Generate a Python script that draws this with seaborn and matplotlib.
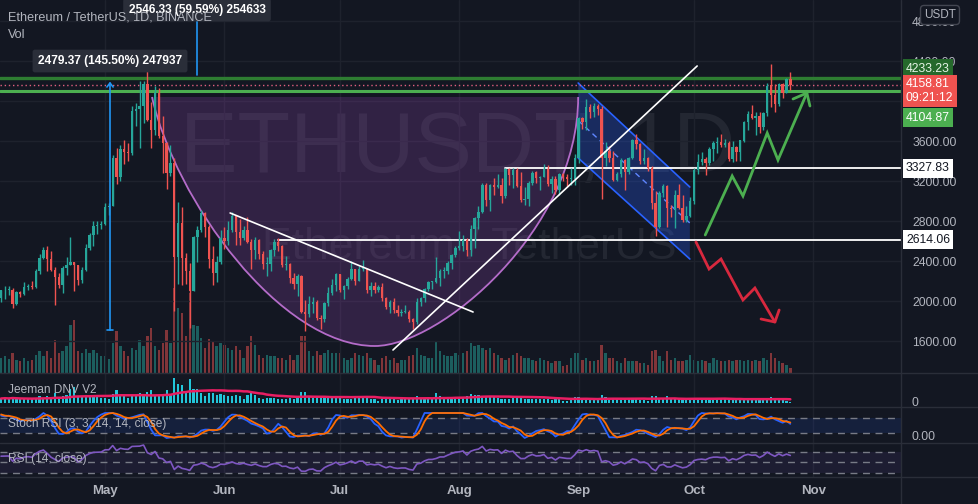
import numpy as np
import pandas as pd
import matplotlib
matplotlib.use("Agg")
import matplotlib.pyplot as plt
import matplotlib.transforms as mtrans
from matplotlib.path import Path
from matplotlib.patches import PathPatch, Polygon
from matplotlib.lines import Line2D
import seaborn as sns

# ---------------- data (ETH/USDT daily, 2021-04-04 .. 2021-10-26) ----------------
warmup_closes = [1565, 1492, 1575, 1541, 1533, 1655, 1723, 1834, 1868, 1799, 1826, 1770,
                 1924, 1855, 1792, 1806, 1823, 1781, 1810, 1806, 1783, 1682, 1670, 1587,
                 1590, 1702, 1714, 1687, 1817, 1846, 1919, 1970, 2133, 2027]

closes = [
    # Apr 4-30
    2106, 2110, 2115, 1970, 2087, 2068, 2136, 2155, 2140, 2300, 2433, 2515, 2425, 2310,
    2238, 2160, 2330, 2360, 2390, 2365, 2210, 2315, 2530, 2660, 2750, 2760, 2770,
    # May
    2945, 2950, 3430, 3240, 3524, 3490, 3481, 3900, 3920, 3950, 4169, 3813, 3715, 4080,
    3650, 3585, 3280, 3385, 2440, 2780, 2430, 2300, 2100, 2640, 2710, 2880, 2740, 2420,
    2280, 2390, 2630,
    # Jun
    2600, 2710, 2855, 2690, 2630, 2710, 2590, 2510, 2610, 2470, 2370, 2370, 2510, 2590,
    2550, 2360, 2370, 2230, 2170, 2250, 1890, 1875, 1970, 1990, 1830, 1820, 1980, 2080,
    2160, 2275,
    # Jul
    2110, 2150, 2225, 2325, 2200, 2320, 2320, 2115, 2150, 2110, 2140, 2035, 1940, 1995,
    1915, 1880, 1895, 1895, 1820, 1787, 1995, 2027, 2124, 2188, 2190, 2230, 2300, 2300,
    2380, 2460, 2535,
    # Aug
    2555, 2608, 2508, 2725, 2827, 2890, 3157, 3012, 3163, 3141, 3164, 3046, 3322, 3265,
    3310, 3147, 3012, 3017, 3180, 3285, 3226, 3242, 3320, 3173, 3224, 3115, 3270, 3245,
    3225, 3225, 3430,
    # Sep
    3830, 3789, 3941, 3887, 3951, 3925, 3428, 3497, 3427, 3211, 3268, 3410, 3286, 3429,
    3613, 3572, 3398, 3433, 3331, 2976, 2743, 3078, 3155, 2930, 2924, 3063, 2930, 2807,
    2850, 3000,
    # Oct 1-26
    3307, 3389, 3418, 3380, 3518, 3581, 3587, 3561, 3578, 3416, 3543, 3492, 3605, 3786,
    3866, 3830, 3847, 3745, 3878, 4155, 4057, 3971, 4169, 4085, 4219, 4159,
]

highs = [
    2110, 2150, 2150, 2130, 2100, 2100, 2190, 2170, 2200, 2318, 2470, 2545, 2550, 2500,
    2340, 2280, 2350, 2440, 2645, 2390, 2365, 2340, 2570, 2680, 2800, 2800, 2800,
    2985, 2980, 3460, 3530, 3560, 3610, 3580, 3950, 3980, 4197, 4200, 4372, 3986, 4147,
    4130, 3853, 3590, 3560, 3430, 2990, 2940, 2480, 2380, 2650, 2750, 2910, 2890, 2760,
    2550, 2450, 2710,
    2740, 2800, 2890, 2860, 2820, 2750, 2840, 2620, 2640, 2620, 2500, 2440, 2520, 2620,
    2630, 2560, 2450, 2380, 2280, 2270, 2260, 2010, 2050, 2040, 2010, 1860, 1990, 2140,
    2220, 2280,
    2275, 2160, 2240, 2400, 2325, 2350, 2410, 2330, 2190, 2190, 2160, 2180, 2045, 2010,
    2035, 1960, 1920, 1965, 1910, 1835, 2030, 2045, 2130, 2200, 2200, 2440, 2320, 2340,
    2400, 2470, 2550,
    2700, 2665, 2630, 2760, 2840, 2950, 3180, 3185, 3175, 3230, 3275, 3235, 3330, 3333,
    3330, 3335, 3290, 3140, 3200, 3300, 3300, 3250, 3375, 3360, 3250, 3250, 3280, 3285,
    3275, 3330, 3470,
    3840, 3840, 4025, 3970, 3980, 3970, 3950, 3590, 3550, 3500, 3290, 3430, 3420, 3440,
    3620, 3670, 3580, 3520, 3440, 3350, 3100, 3100, 3175, 3160, 2960, 3110, 3170, 3060,
    2950, 3040,
    3330, 3470, 3490, 3440, 3540, 3600, 3640, 3670, 3625, 3600, 3600, 3550, 3615, 3800,
    3900, 3960, 3890, 3890, 3890, 4180, 4375, 4170, 4185, 4185, 4230, 4290,
]

lows = [
    1990, 2020, 2060, 1930, 1960, 2040, 2060, 2110, 2120, 2130, 2270, 2420, 2300, 2300,
    1960, 2130, 2080, 2260, 2360, 2100, 2160, 2180, 2300, 2510, 2550, 2670, 2720,
    2760, 2860, 2950, 3170, 3200, 3370, 3400, 3460, 3750, 3530, 3780, 3800, 3530, 3660,
    3630, 3280, 3120, 3250, 1900, 2170, 2160, 2170, 1730, 2100, 2390, 2690, 2640, 2330,
    2160, 2190, 2370,
    2520, 2560, 2690, 2560, 2560, 2610, 2580, 2320, 2420, 2420, 2320, 2250, 2300, 2450,
    2500, 2340, 2310, 2180, 2120, 2050, 1880, 1700, 1840, 1880, 1810, 1720, 1790, 1950,
    2060, 2100,
    2090, 2020, 2120, 2210, 2160, 2200, 2300, 2080, 2050, 2080, 2090, 2000, 1920, 1880,
    1885, 1855, 1855, 1880, 1795, 1718, 1770, 1955, 1990, 2100, 2125, 2180, 2150, 2230,
    2270, 2320, 2440,
    2510, 2500, 2450, 2450, 2530, 2720, 2880, 2950, 2900, 3060, 3130, 2980, 3030, 3160,
    3130, 3140, 2990, 2960, 2950, 3160, 3180, 3110, 3240, 3150, 3080, 3070, 3060, 3200,
    3150, 3160, 3160,
    3385, 3720, 3710, 3830, 3845, 3860, 3020, 3350, 3390, 3200, 3200, 3240, 3110, 3270,
    3420, 3520, 3370, 3375, 3300, 2920, 2650, 2730, 3040, 2740, 2840, 2730, 2925, 2790,
    2790, 2840,
    2970, 3270, 3360, 3265, 3360, 3400, 3480, 3540, 3540, 3400, 3390, 3400, 3400, 3590,
    3715, 3820, 3660, 3680, 3710, 3850, 3940, 3890, 3950, 4030, 4080, 4110,
]

# daily volume, in units of 40k ETH
volume = [
    15, 17, 14, 20, 13, 12, 15, 12, 13, 18, 22, 17, 22, 15, 33, 20, 22, 27, 48, 53,
    22, 20, 24, 20, 23, 20, 17, 17, 14, 30, 42, 27, 22, 17, 25, 23, 33, 27, 37, 45,
    27, 23, 30, 43, 30, 85, 65, 60, 37, 80, 48, 47, 35, 25, 34, 32, 27, 30, 28, 25,
    23, 27, 23, 15, 27, 37, 28, 18, 15, 18, 17, 17, 15, 15, 13, 18, 13, 18, 37, 37,
    22, 17, 22, 18, 20, 23, 20, 20, 20, 15, 13, 15, 20, 18, 17, 20, 15, 13, 8, 15,
    17, 13, 15, 10, 13, 13, 17, 18, 25, 18, 17, 15, 15, 32, 22, 18, 17, 17, 20, 18,
    20, 22, 30, 27, 28, 25, 23, 25, 20, 18, 15, 13, 15, 18, 20, 17, 15, 15, 13, 12,
    15, 13, 12, 10, 12, 12, 7, 8, 15, 20, 20, 13, 15, 12, 12, 13, 28, 20, 15, 15,
    12, 10, 15, 12, 12, 12, 10, 10, 8, 22, 23, 17, 12, 22, 13, 15, 12, 12, 13, 18,
    13, 12, 13, 12, 10, 15, 13, 12, 12, 13, 12, 13, 13, 12, 13, 12, 13, 12, 15, 13,
    20, 15, 12, 10, 8, 5,
]

month_labels = ["May", "Jun", "Jul", "Aug", "Sep", "Oct", "Nov"]
month_index = [27, 58, 88, 119, 150, 180, 211]
price_ticks = [1600, 2000, 2400, 2800, 3200, 3600, 4000, 4400, 4800]
hidden_ticks = [4000]   # fully covered by the last-price label in the reference

# ---------------- user drawings (day index, price) ----------------
level_dark_green = 4233.23
level_light_green = 4104.87
last_price = 4158.81
countdown = "09:21:12"
level_a = (130.9, 3327.83)
level_b = (71.9, 2614.06)
desc_line_x, desc_line_y = [59.5, 122.6], [2880, 1890]
asc_line_x, asc_line_y = [101.8, 180.8], [1510, 4350]
cup_x = [39.2, 45.2, 72.5, 97.1, 114.0, 149.9, 149.9]
cup_y = [4040, 3010, 1550, 1550, 1550, 2710, 4040]
channel_x = [149.9, 178.9]
channel_upper = [4180, 3140]
channel_lower = [3430, 2420]
green_path_x = [182.9, 189.9, 192.7, 199.0, 201.8, 209.3]
green_path_y = [2660, 3250, 3050, 3680, 3410, 4080]
green_head_x, green_head_y = [205.7, 209.3, 210.1], [4020, 4080, 3950]
red_path_x = [180.5, 183.9, 187.0, 192.7, 195.8, 201.0]
red_path_y = [2590, 2320, 2420, 2010, 2130, 1790]
red_head_x, red_head_y = [197.4, 201.0, 202.1], [1820, 1790, 1910]
measure1 = dict(x=28.3, lo=1710, hi=4180, label="2479.37 (145.50%) 247937", lx=28.3, ly=4400)
measure2 = dict(x=50.9, lo=4260, hi=5200, label="2546.33 (59.59%) 254633", lx=50.9, ly=4910)

# ---------------- derived series ----------------
n = len(closes)
idx = np.arange(n)
c = np.array(closes, float)
o = np.array([warmup_closes[-1]] + closes[:-1], float)
h = np.array(highs, float)
l = np.array(lows, float)
v = np.array(volume, float)
up = c >= o

all_close = pd.Series(warmup_closes + closes, dtype=float)
d = all_close.diff()
gain = d.clip(lower=0).ewm(alpha=1 / 14, adjust=False).mean()
loss = (-d.clip(upper=0)).ewm(alpha=1 / 14, adjust=False).mean()
rsi_all = 100 - 100 / (1 + gain / loss)
lo14 = rsi_all.rolling(14).min()
hi14 = rsi_all.rolling(14).max()
stoch = 100 * (rsi_all - lo14) / (hi14 - lo14)
k_all = stoch.rolling(3).mean()
d_all = k_all.rolling(3).mean()
off = len(warmup_closes)
rsi = rsi_all.values[off:]
k_line = k_all.values[off:]
d_line = d_all.values[off:]
vol_ma = pd.Series(v).rolling(20, min_periods=1).mean().values

df = pd.DataFrame(dict(i=idx, rsi=rsi, k=k_line, d=d_line, vma=vol_ma))

# ---------------- style ----------------
sns.set_theme(style="dark")
plt.rcParams["font.family"] = ["Liberation Sans", "DejaVu Sans"]
BG = "#131722"
TXT = "#b2b5be"
GRID = "#1e222d"
SEP = "#2a2e39"
UPC = "#26a69a"
DNC = "#ef5350"

W, H = 979, 504
fig = plt.figure(figsize=(W / 100, H / 100), dpi=100)
fig.patch.set_facecolor(BG)


def rect(top, bottom, left=0, right=901):
    return [left / W, 1 - bottom / H, (right - left) / W, (bottom - top) / H]


XLIM = (-0.273, 233.75)

# volume axes (behind main)
axv = fig.add_axes(rect(0, 373))
axv.set_facecolor(BG)
axv.bar(idx, v, width=0.62, color=np.where(up, UPC, DNC), alpha=0.5, linewidth=0)
axv.set_xlim(*XLIM)
axv.set_ylim(0, 373)
axv.axis("off")

# main price axes
ax = fig.add_axes(rect(0, 373), sharex=axv)
ax.patch.set_visible(False)
ax.set_xlim(*XLIM)
ax.set_ylim(1280, 5010)
for s in ax.spines.values():
    s.set_visible(False)
ax.set_axisbelow(True)
ax.yaxis.tick_right()
ax.set_yticks(price_ticks)
ax.set_yticklabels(["" if p in hidden_ticks else f"{p:.2f}" for p in price_ticks])
ax.tick_params(axis="y", length=0, pad=8, labelsize=8.7, labelcolor=TXT)
ax.set_xticks(month_index)
ax.tick_params(axis="x", length=0, labelbottom=False)
ax.grid(True, color=GRID, lw=1)

# watermark
ax.text(458 / W, 1 - 172 / H, "ETHUSDT, 1D", transform=fig.transFigure, ha="center",
        va="baseline", fontsize=62, color="#787b86", alpha=0.16, zorder=0.5)
ax.text(469 / W, 1 - 259 / H, "Ethereum / TetherUS", transform=fig.transFigure, ha="center",
        va="baseline", fontsize=32, color="#787b86", alpha=0.16, zorder=0.5)

# cup (arc) drawing
verts = list(zip(cup_x, cup_y))
codes = [Path.MOVETO, Path.CURVE4, Path.CURVE4, Path.CURVE4, Path.CURVE4, Path.CURVE4, Path.CURVE4]
ax.add_patch(PathPatch(Path(verts + [verts[0]], codes + [Path.CLOSEPOLY]),
                       fc="#8e44ad", alpha=0.25, ec="none", zorder=1))
ax.add_patch(PathPatch(Path(verts, codes), fc="none", ec="#b46cc9", lw=1.3, zorder=1.2))

# falling channel
chan = Polygon([(channel_x[0], channel_upper[0]), (channel_x[1], channel_upper[1]),
                (channel_x[1], channel_lower[1]), (channel_x[0], channel_lower[0])],
               closed=True, fc="#2962ff", alpha=0.28, ec="none", zorder=1)
ax.add_patch(chan)
ax.plot(channel_x, channel_upper, color="#2962ff", lw=1.2, zorder=1.3)
ax.plot(channel_x, channel_lower, color="#2962ff", lw=1.2, zorder=1.3)
ax.plot(channel_x, [(a + b) / 2 for a, b in zip(channel_upper, channel_lower)],
        color="#5f86ff", lw=1, ls=(0, (4, 3)), zorder=1.3)

# horizontal levels
ax.axhline(level_dark_green, color="#2e7d32", lw=2.4, zorder=2)
ax.axhline(level_light_green, color="#4caf50", lw=2.2, zorder=2)
ax.axhline(last_price, color="#e0607e", lw=1, ls=(0, (1, 2)), zorder=2)
ax.plot([level_a[0], XLIM[1]], [level_a[1]] * 2, color="white", lw=1.3, zorder=2)
ax.plot([level_b[0], XLIM[1]], [level_b[1]] * 2, color="white", lw=1.3, zorder=2)

# candles
cols = np.where(up, UPC, DNC)
ax.vlines(idx, l, h, colors=cols, lw=1, zorder=3)
body = np.maximum(np.abs(c - o), 8)
ax.bar(idx, body, bottom=np.minimum(o, c), width=0.62, color=cols, linewidth=0, zorder=3.1)

# trend lines & arrows
ax.plot(desc_line_x, desc_line_y, color="white", lw=1.2, zorder=4)
ax.plot(asc_line_x, asc_line_y, color="white", lw=1.2, zorder=4)
ax.plot(green_path_x, green_path_y, color="#4caf50", lw=2, zorder=4, solid_joinstyle="miter")
ax.plot(green_head_x, green_head_y, color="#4caf50", lw=2, zorder=4)
ax.plot(red_path_x, red_path_y, color="#d8283e", lw=2, zorder=4, solid_joinstyle="miter")
ax.plot(red_head_x, red_head_y, color="#d8283e", lw=2, zorder=4)

# measurement tools
for m in (measure1, measure2):
    ax.plot([m["x"], m["x"]], [m["lo"], m["hi"]], color="#2196f3", lw=1.2, zorder=4, clip_on=True)
    ax.text(m["lx"], m["ly"], m["label"], ha="center", va="center", fontsize=8.6,
            fontweight="bold", color="white", zorder=6,
            bbox=dict(boxstyle="round,pad=0.45,rounding_size=0.2", fc="#2a2e39", ec="none"))
ax.plot([measure1["x"] - 0.8, measure1["x"], measure1["x"] + 0.8],
        [measure1["hi"] - 40, measure1["hi"], measure1["hi"] - 40], color="#2196f3", lw=1.2, zorder=4)
ax.plot([measure1["x"] - 0.7, measure1["x"] + 0.7], [measure1["lo"]] * 2, color="#2196f3", lw=1.2, zorder=4)

# price-axis labels
trans = mtrans.blended_transform_factory(ax.transAxes, ax.transData)


def price_box(price, text, fc, tc, dy=0):
    ax.annotate(text, xy=(1, price), xycoords=trans, xytext=(5, dy), textcoords="offset pixels",
                ha="left", va="center", fontsize=8.8, color=tc, linespacing=1.15,
                bbox=dict(boxstyle="square,pad=0.28", fc=fc, ec="none"),
                annotation_clip=False, zorder=10)


price_box(level_dark_green, f"{level_dark_green:.2f}", "#25692c", "#e6f4e6", dy=9)
price_box(last_price, f"{last_price:.2f}\n{countdown}", "#ef5350", "white", dy=-6)
price_box(level_light_green, f"{level_light_green:.2f}", "#4caf50", "white", dy=-27)
price_box(level_a[1], f"{level_a[1]:.2f}", "white", "#131722")
price_box(level_b[1], f"{level_b[1]:.2f}", "white", "#131722")

# ---------------- indicator panels ----------------
axj = fig.add_axes(rect(373, 407), sharex=axv)
axs = fig.add_axes(rect(407, 443), sharex=axv)
axr = fig.add_axes(rect(443, 477), sharex=axv)
for a in (axj, axs, axr):
    a.set_facecolor(BG)
    for s in a.spines.values():
        s.set_visible(False)
    a.set_xlim(*XLIM)
    a.set_xticks(month_index)
    a.set_yticks([])
    a.grid(True, axis="x", color=GRID, lw=1)
    a.set_axisbelow(True)

# Jeeman DNV V2
axj.bar(idx, v, width=0.55, color="#22c6da", linewidth=0, zorder=2)
sns.lineplot(data=df, x="i", y="vma", ax=axj, color="#e91e63", lw=1.8, legend=False, zorder=3)
axj.set_ylim(-13.3, 100)

# Stoch RSI
axs.axhspan(20, 80, color="#2962ff", alpha=0.12, lw=0, zorder=1)
for lev in (20, 80):
    axs.plot([XLIM[0], 232.5], [lev, lev], color="#787b86", lw=1, ls=(0, (5, 4)), zorder=1.5)
sns.lineplot(data=df, x="i", y="k", ax=axs, color="#2962ff", lw=1.3, legend=False, zorder=3)
sns.lineplot(data=df, x="i", y="d", ax=axs, color="#ff6d00", lw=1.3, legend=False, zorder=3)
axs.set_ylim(-20, 124)

# RSI
axr.axhspan(30, 70, color="#7e57c2", alpha=0.1, lw=0, zorder=1)
for lev in (30, 50, 70):
    axr.plot([XLIM[0], 232.5], [lev, lev], color="#787b86", lw=1, ls=(0, (5, 4)), zorder=1.5)
sns.lineplot(data=df, x="i", y="rsi", ax=axr, color="#7e57c2", lw=1.2, legend=False, zorder=3)
axr.set_ylim(22.4, 87.1)

for a in (axj, axs):
    a.tick_params(axis="x", length=0, labelbottom=False)
for a in (axj, axs, axr):
    a.set_xlabel("")
    a.set_ylabel("")
axr.set_xticklabels(month_labels)
axr.tick_params(axis="x", length=0, pad=6, labelsize=9.5, labelcolor=TXT)
for t in axr.get_xticklabels():
    t.set_fontweight("bold")

# separators
for yy in (373, 407, 443, 477):
    fig.add_artist(Line2D([0, 1], [1 - yy / H] * 2, color=SEP, lw=1))
fig.add_artist(Line2D([901 / W] * 2, [1 - 504 / H, 1], color=SEP, lw=1))

# texts
fig.text(8 / W, 1 - 21 / H, "Ethereum / TetherUS, 1D, BINANCE", fontsize=9.1, color=TXT, va="baseline")
fig.text(8 / W, 1 - 38 / H, "Vol", fontsize=9.1, color=TXT, va="baseline")
fig.text(8 / W, 1 - 390 / H, "Jeeman DNV V2", fontsize=8.6, color=TXT, va="center")
fig.text(8 / W, 1 - 424 / H, "Stoch RSI (3, 3, 14, 14, close)", fontsize=8.6, color=TXT, va="center")
fig.text(8 / W, 1 - 459 / H, "RSI (14, close)", fontsize=8.6, color=TXT, va="center")
fig.text(912 / W, 1 - 403 / H, "0", fontsize=8.7, color=TXT, va="center")
fig.text(912 / W, 1 - 437 / H, "0.00", fontsize=8.7, color=TXT, va="center")
fig.text(940 / W, 1 - 15 / H, "USDT", fontsize=8.5, color=TXT, ha="center", va="center",
         bbox=dict(boxstyle="round,pad=0.3,rounding_size=0.3", fc=BG, ec="#434651", lw=1))

fig.savefig("out.png", dpi=100, facecolor=BG)
